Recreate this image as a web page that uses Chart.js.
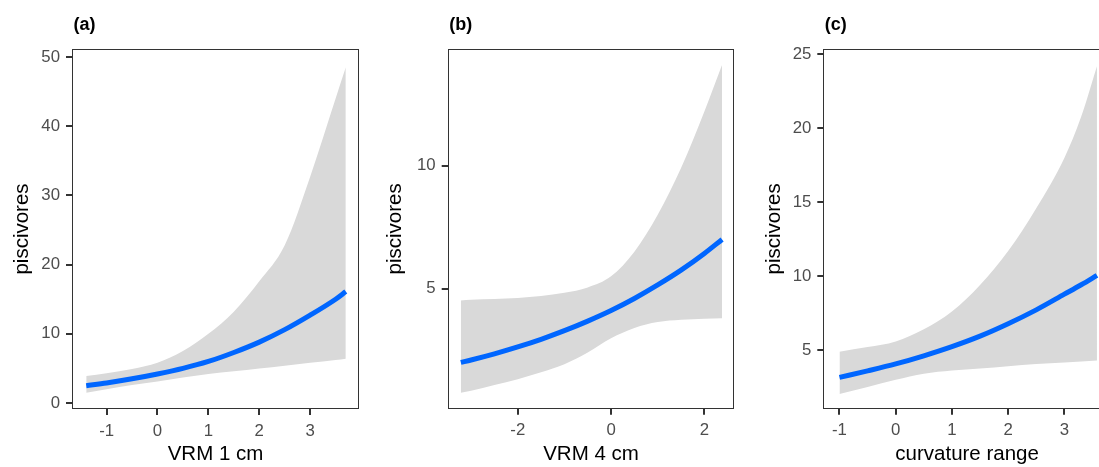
<!DOCTYPE html>
<html><head><meta charset="utf-8">
<script src="https://cdn.jsdelivr.net/npm/chart.js@4"></script>
<style>
html,body{margin:0;padding:0;overflow:hidden;background:#fff;}
#wrap{position:relative;width:1099px;height:467px;overflow:hidden;background:#fff;}
canvas{position:absolute;top:0;}
</style></head><body>
<div id="wrap">
<canvas id="ca" width="370" height="467" style="left:0px"></canvas>
<canvas id="cb" width="375" height="467" style="left:370px"></canvas>
<canvas id="cc" width="380" height="467" style="left:740px"></canvas>
</div>
<script>
// ---- Data ----
// Panel (a): VRM 1 cm
const xA     = [-1.4, -1, -0.5, 0, 0.5, 1, 1.5, 2, 2.5, 3, 3.5, 3.7];
const meanA  = [2.5, 2.9, 3.5, 4.2, 5.0, 6.0, 7.3, 8.8, 10.6, 12.7, 15.0, 16.1];
const upperA = [3.9, 4.3, 4.9, 5.8, 7.5, 10.0, 13.2, 17.6, 22.8, 32.7, 44.0, 48.5];
const lowerA = [1.5, 2.0, 2.6, 3.1, 3.7, 4.2, 4.6, 5.0, 5.4, 5.8, 6.2, 6.4];
const xTicksA = [-1, 0, 1, 2, 3];
const xTickLabelsA = ['-1', '0', '1', '2', '3'];
const yTicksA = [0, 10, 20, 30, 40, 50];
const yTickLabelsA = ['0', '10', '20', '30', '40', '50'];

// Panel (b): VRM 4 cm
const xB     = [-3.22, -3, -2.5, -2, -1.5, -1, -0.5, 0, 0.5, 1, 1.5, 2, 2.38];
const meanB  = [2.0, 2.1, 2.35, 2.63, 2.94, 3.29, 3.68, 4.11, 4.6, 5.15, 5.75, 6.43, 7.0];
const upperB = [4.52, 4.55, 4.58, 4.62, 4.7, 4.83, 5.05, 5.5, 6.5, 8.0, 9.9, 12.2, 14.1];
const lowerB = [0.77, 0.85, 1.08, 1.32, 1.6, 1.93, 2.4, 2.98, 3.4, 3.64, 3.73, 3.78, 3.8];
const xTicksB = [-2, 0, 2];
const xTickLabelsB = ['-2', '0', '2'];
const yTicksB = [5, 10];
const yTickLabelsB = ['5', '10'];

// Panel (c): curvature range
const xC     = [-1, -0.5, 0, 0.5, 1, 1.5, 2, 2.5, 3, 3.3, 3.58];
const meanC  = [3.15, 3.59, 4.06, 4.61, 5.23, 5.94, 6.78, 7.72, 8.78, 9.42, 10.05];
const upperC = [4.89, 5.2, 5.58, 6.4, 7.6, 9.4, 11.7, 14.6, 18.0, 20.8, 24.2];
const lowerC = [2.02, 2.5, 2.99, 3.4, 3.62, 3.75, 3.9, 4.05, 4.15, 4.22, 4.3];
const xTicksC = [-1, 0, 1, 2, 3];
const xTickLabelsC = ['-1', '0', '1', '2', '3'];
const yTicksC = [5, 10, 15, 20, 25];
const yTickLabelsC = ['5', '10', '15', '20', '25'];

const yTitle = 'piscivores';
// ---------------------------------------

const FAMILY = '"Liberation Sans", Arial, Helvetica, sans-serif';

function pts(xs, ys) { return xs.map((x, i) => ({x: x, y: ys[i]})); }

const framePlugin = {
  id: 'frame',
  afterDatasetsDraw(chart) {
    const {ctx, chartArea: a} = chart;
    ctx.save();
    ctx.strokeStyle = '#333333';
    ctx.lineWidth = 1;
    const l = Math.round(a.left) - 0.5, t = Math.round(a.top) - 0.5;
    const r = Math.round(a.right) + 0.5, b = Math.round(a.bottom) + 0.5;
    ctx.strokeRect(l, t, r - l, b - t);
    ctx.restore();
  },
  afterDraw(chart) {
    const tag = chart.options.plugins.frame.tag;
    const {ctx, chartArea: a} = chart;
    ctx.save();
    ctx.fillStyle = '#000';
    ctx.font = 'bold 18px ' + FAMILY;
    ctx.textBaseline = 'middle';
    ctx.textAlign = 'left';
    ctx.fillText(tag, a.left + 0.5, 25);
    ctx.restore();
  }
};

function makePanel(id, p) {
  new Chart(document.getElementById(id), {
    type: 'line',
    data: {
      datasets: [
        {data: pts(p.xs, p.upper), fill: '+1', backgroundColor: '#d9d9d9',
         borderColor: 'rgba(0,0,0,0)', borderWidth: 0, pointRadius: 0,
         cubicInterpolationMode: 'monotone', order: 2},
        {data: pts(p.xs, p.lower), fill: false, backgroundColor: '#d9d9d9',
         borderColor: 'rgba(0,0,0,0)', borderWidth: 0, pointRadius: 0,
         cubicInterpolationMode: 'monotone', order: 2},
        {data: pts(p.xs, p.mean), fill: false, borderColor: '#0066ff',
         borderWidth: 5, pointRadius: 0, cubicInterpolationMode: 'monotone',
         borderCapStyle: 'butt', order: 1}
      ]
    },
    options: {
      responsive: false,
      animation: false,
      events: [],
      layout: {padding: {top: 50, right: p.padRight, left: 0, bottom: 0}},
      plugins: {legend: {display: false}, tooltip: {enabled: false}, frame: {tag: p.tag}},
      scales: {
        x: {
          type: 'linear', position: 'bottom', min: p.xMin, max: p.xMax,
          afterBuildTicks: s => { s.ticks = p.xTicks.map(v => ({value: v})); },
          afterFit: s => { s.height = p.xH; },
          grid: {display: true, drawOnChartArea: false, drawTicks: true, tickLength: 7,
                 color: '#333333', lineWidth: 2},
          border: {display: false},
          ticks: {color: '#4d4d4d', font: {size: 16.8, family: FAMILY}, padding: 6,
                  maxRotation: 0, autoSkip: false,
                  callback: (v, i) => p.xTickLabels[i]},
          title: {display: true, text: p.xTitle, color: '#000',
                  font: {size: 20.5, family: FAMILY}, padding: {top: 0, bottom: 0}}
        },
        y: {
          type: 'linear', position: 'left', min: p.yMin, max: p.yMax,
          afterBuildTicks: s => { s.ticks = p.yTicks.map(v => ({value: v})); },
          afterFit: s => { s.width = p.yW; },
          grid: {display: true, drawOnChartArea: false, drawTicks: true, tickLength: 7,
                 color: '#333333', lineWidth: 2},
          border: {display: false},
          ticks: {color: '#4d4d4d', font: {size: 16.8, family: FAMILY}, padding: 6,
                  autoSkip: false, callback: (v, i) => p.yTickLabels[i]},
          title: {display: true, text: yTitle, color: '#000',
                  font: {size: 20.5, family: FAMILY}, padding: {top: p.yTitlePad, bottom: 0}}
        }
      }
    },
    plugins: [framePlugin]
  });
}

makePanel('ca', {xs: xA, mean: meanA, upper: upperA, lower: lowerA,
  xTicks: xTicksA, xTickLabels: xTickLabelsA, yTicks: yTicksA, yTickLabels: yTickLabelsA,
  xMin: -1.66, xMax: 3.94, yMin: -0.72, yMax: 51.0,
  yW: 73, xH: 59, padRight: 12, yTitlePad: 10, xTitle: 'VRM 1 cm', tag: '(a)'});

makePanel('cb', {xs: xB, mean: meanB, upper: upperB, lower: lowerB,
  xTicks: xTicksB, xTickLabels: xTickLabelsB, yTicks: yTicksB, yTickLabels: yTickLabelsB,
  xMin: -3.48, xMax: 2.62, yMin: 0.16, yMax: 14.7,
  yW: 78.7, xH: 59.3, padRight: 11.7, yTitlePad: 13.5, xTitle: 'VRM 4 cm', tag: '(b)'});

makePanel('cc', {xs: xC, mean: meanC, upper: upperC, lower: lowerC,
  xTicks: xTicksC, xTickLabels: xTickLabelsC, yTicks: yTicksC, yTickLabels: yTickLabelsC,
  xMin: -1.27, xMax: 3.81, yMin: 1.1, yMax: 25.3,
  yW: 84.3, xH: 59.3, padRight: 10.1, yTitlePad: 21.9, xTitle: 'curvature range', tag: '(c)'});
</script>
</body></html>
